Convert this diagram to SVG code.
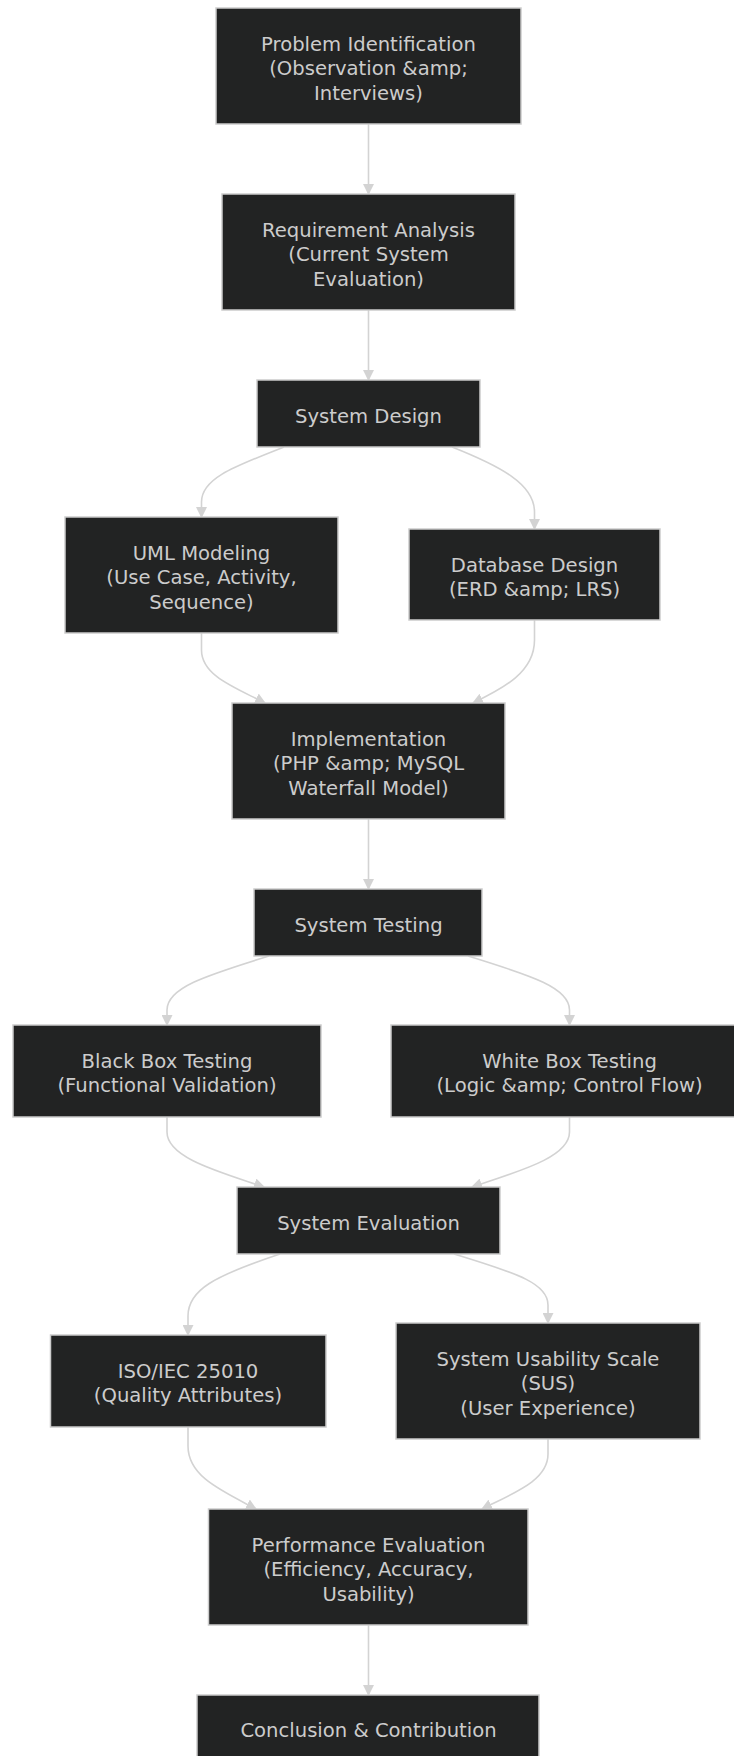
<svg xmlns="http://www.w3.org/2000/svg" width="734" height="1756" viewBox="0 0 734 1756">
<style>
.node rect{fill:#222323;stroke:#cccccc;stroke-width:1.5}
.node text{font-family:"DejaVu Sans","Open Sans",sans-serif;font-size:19.6px;fill:#cccccc;text-anchor:middle}
.edge{fill:none;stroke:#d3d3d3;stroke-width:1.6}
</style>
<defs>
<marker id="arr" viewBox="0 0 10 10" refX="9" refY="5" markerWidth="11" markerHeight="11" markerUnits="userSpaceOnUse" orient="auto">
<path d="M0,0 L10,5 L0,10 z" fill="#d3d3d3"/>
</marker>
</defs>
<rect width="734" height="1756" fill="#ffffff"/>
<g id="edges">
<path class="edge" marker-end="url(#arr)" d="M368.5,124 L368.5,194"/>
<path class="edge" marker-end="url(#arr)" d="M368.5,310 L368.5,380"/>
<path class="edge" marker-end="url(#arr)" d="M284,447 C236,466 201.5,478 201.5,502 L201.5,517"/>
<path class="edge" marker-end="url(#arr)" d="M452,447 C500,466 534.5,484 534.5,512 L534.5,529"/>
<path class="edge" marker-end="url(#arr)" d="M201.5,633 L201.5,650 C201.5,676 236,688 265,703"/>
<path class="edge" marker-end="url(#arr)" d="M534.5,620 L534.5,640 C534.5,672 504,688 473,703"/>
<path class="edge" marker-end="url(#arr)" d="M368.5,819 L368.5,889"/>
<path class="edge" marker-end="url(#arr)" d="M269,956 C204,976 167,988 167,1010 L167,1025"/>
<path class="edge" marker-end="url(#arr)" d="M468,956 C533,976 569.5,988 569.5,1010 L569.5,1025"/>
<path class="edge" marker-end="url(#arr)" d="M167,1117 L167,1132 C167,1158 220,1172 264,1187"/>
<path class="edge" marker-end="url(#arr)" d="M569.5,1117 L569.5,1132 C569.5,1158 516,1172 472,1187"/>
<path class="edge" marker-end="url(#arr)" d="M280,1254 C214,1276 188,1290 188,1316 L188,1335"/>
<path class="edge" marker-end="url(#arr)" d="M454,1254 C520,1274 548,1284 548,1305 L548,1323"/>
<path class="edge" marker-end="url(#arr)" d="M188,1427 L188,1446 C188,1476 220,1490 256,1509"/>
<path class="edge" marker-end="url(#arr)" d="M548,1439 L548,1454 C548,1480 516,1492 482,1509"/>
<path class="edge" marker-end="url(#arr)" d="M368.5,1625 L368.5,1695"/>
</g>
<g id="n1" class="node"><rect x="216" y="8" width="305" height="116"/><text x="368.5" y="50.5">Problem Identification</text><text x="368.5" y="75">(Observation &amp;amp;</text><text x="368.5" y="99.5">Interviews)</text></g>
<g id="n2" class="node"><rect x="222" y="194" width="293" height="116"/><text x="368.5" y="236.5">Requirement Analysis</text><text x="368.5" y="261">(Current System</text><text x="368.5" y="285.5">Evaluation)</text></g>
<g id="n3" class="node"><rect x="257" y="380" width="223" height="67"/><text x="368.5" y="422.5">System Design</text></g>
<g id="n4" class="node"><rect x="65" y="517" width="273" height="116"/><text x="201.5" y="559.5">UML Modeling</text><text x="201.5" y="584">(Use Case, Activity,</text><text x="201.5" y="608.5">Sequence)</text></g>
<g id="n5" class="node"><rect x="409" y="529" width="251" height="91"/><text x="534.5" y="571.5">Database Design</text><text x="534.5" y="596">(ERD &amp;amp; LRS)</text></g>
<g id="n6" class="node"><rect x="232" y="703" width="273" height="116"/><text x="368.5" y="745.5">Implementation</text><text x="368.5" y="770">(PHP &amp;amp; MySQL</text><text x="368.5" y="794.5">Waterfall Model)</text></g>
<g id="n7" class="node"><rect x="254" y="889" width="228" height="67"/><text x="368.5" y="931.5">System Testing</text></g>
<g id="n8" class="node"><rect x="13" y="1025" width="308" height="92"/><text x="167" y="1067.5">Black Box Testing</text><text x="167" y="1092">(Functional Validation)</text></g>
<g id="n9" class="node"><rect x="391" y="1025" width="357" height="92"/><text x="569.5" y="1067.5">White Box Testing</text><text x="569.5" y="1092">(Logic &amp;amp; Control Flow)</text></g>
<g id="n10" class="node"><rect x="237" y="1187" width="263" height="67"/><text x="368.5" y="1229.5">System Evaluation</text></g>
<g id="n11" class="node"><rect x="50.5" y="1335" width="275.5" height="92"/><text x="188" y="1377.5">ISO/IEC 25010</text><text x="188" y="1402">(Quality Attributes)</text></g>
<g id="n12" class="node"><rect x="396" y="1323" width="304" height="116"/><text x="548" y="1365.5">System Usability Scale</text><text x="548" y="1390">(SUS)</text><text x="548" y="1414.5">(User Experience)</text></g>
<g id="n13" class="node"><rect x="208.5" y="1509" width="319.5" height="116"/><text x="368.5" y="1551.5">Performance Evaluation</text><text x="368.5" y="1576">(Efficiency, Accuracy,</text><text x="368.5" y="1600.5">Usability)</text></g>
<g id="n14" class="node"><rect x="197" y="1695" width="342" height="66"/><text x="368.5" y="1737">Conclusion &amp; Contribution</text></g>
</svg>
